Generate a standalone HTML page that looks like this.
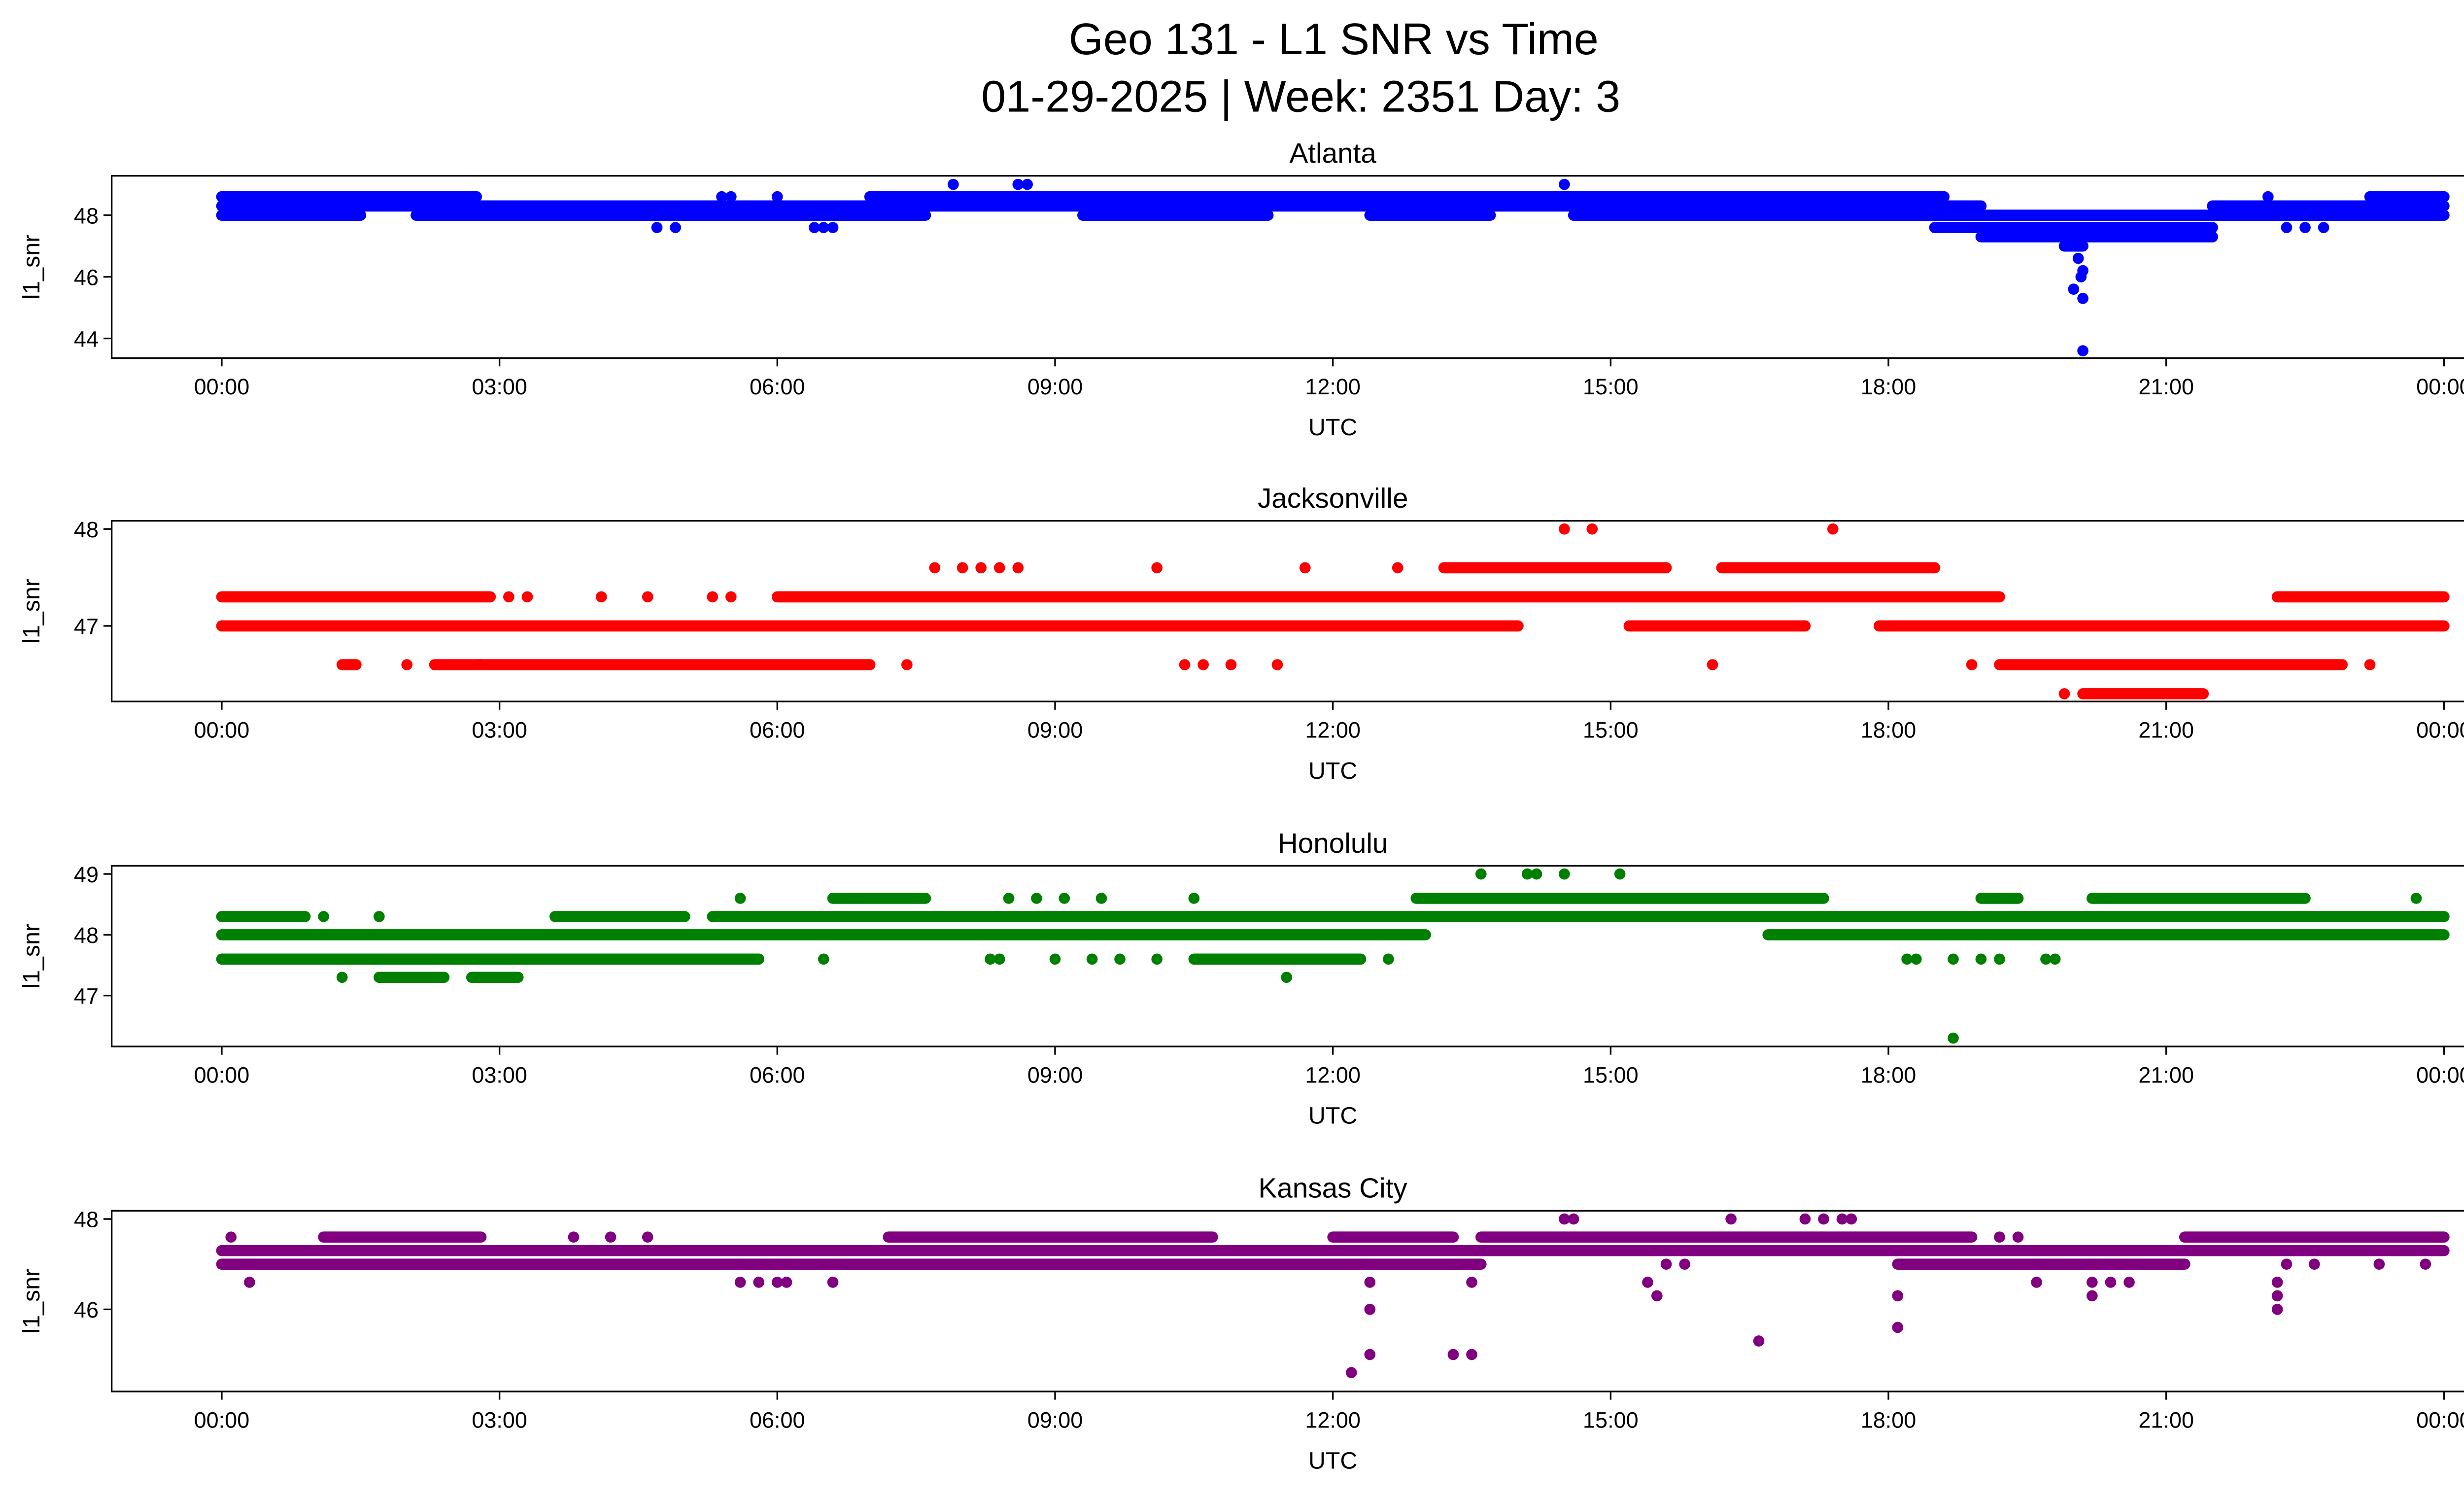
<!DOCTYPE html>
<html><head><meta charset="utf-8"><style>
html,body{margin:0;padding:0;background:#fff}
svg{display:block}
text{font-family:"Liberation Sans","DejaVu Sans",sans-serif;fill:#000}
</style></head><body>
<svg id="fig" width="5226" height="3033" viewBox="0 0 1568 910" xmlns="http://www.w3.org/2000/svg">
<text x="812" y="33" font-size="27" text-anchor="middle">Geo 131 - L1 SNR vs Time</text>
<text x="792" y="68" font-size="27" text-anchor="middle">01-29-2025 | Week: 2351 Day: 3</text>
</svg>
<script>
// Data arrays: runs are [startHour, endHour, value]; points are [hour, value]
const panelTitles = ["Atlanta","Jacksonville","Honolulu","Kansas City"];
const seriesColors = ["#0000ff","#ff0000","#008000","#800080"];
const xTickLabels = ["00:00","03:00","06:00","09:00","12:00","15:00","18:00","21:00","00:00"];
const xTickHours = [0,3,6,9,12,15,18,21,24];
const yTicks1 = [44,46,48];
const yTicks2 = [47,48];
const yTicks3 = [47,48,49];
const yTicks4 = [46,48];
const runsAtlanta = [[0,2.75,48.6],[7.0,18.6,48.6],[23.2,24,48.6],[0,19.0,48.3],[21.5,24,48.3],[0,1.5,48.0],[2.1,7.6,48.0],[9.3,11.3,48.0],[12.4,13.7,48.0],[14.6,24,48.0],[18.5,21.5,47.6],[19.0,21.5,47.3],[19.9,20.1,47.0]];
const ptsAtlanta = [[20.05,46.6],[20.1,46.2],[20.0,45.6],[20.1,45.3],[20.08,46.0],[20.1,43.6],[7.9,49],[8.6,49],[8.7,49],[14.5,49],[4.7,47.6],[4.9,47.6],[6.4,47.6],[6.5,47.6],[6.6,47.6],[22.1,48.6],[5.4,48.6],[5.5,48.6],[6.0,48.6],[22.3,47.6],[22.5,47.6],[22.7,47.6]];
const runsJax = [[0,2.9,47.3],[6.0,19.2,47.3],[22.2,24,47.3],[0,14.0,47.0],[15.2,17.1,47.0],[17.9,24,47.0],[1.3,1.45,46.6],[2.3,2.8,46.6],[2.75,7.0,46.6],[19.2,22.9,46.6],[13.2,15.6,47.6],[16.2,18.5,47.6],[20.1,21.4,46.3]];
const ptsJax = [[14.5,48],[14.8,48],[17.4,48],[7.7,47.6],[8.0,47.6],[8.2,47.6],[8.4,47.6],[8.6,47.6],[10.1,47.6],[11.7,47.6],[12.7,47.6],[2.0,46.6],[7.4,46.6],[10.4,46.6],[10.6,46.6],[10.9,46.6],[11.4,46.6],[16.1,46.6],[18.9,46.6],[23.2,46.6],[19.9,46.3],[3.1,47.3],[3.3,47.3],[4.1,47.3],[4.6,47.3],[5.3,47.3],[5.5,47.3]];
const runsHon = [[0,0.9,48.3],[3.6,5.0,48.3],[5.3,24,48.3],[0,13.0,48.0],[16.7,24,48.0],[0,5.8,47.6],[10.5,12.3,47.6],[6.6,7.6,48.6],[12.9,17.3,48.6],[19.0,19.4,48.6],[20.2,22.5,48.6],[1.7,2.4,47.3],[2.7,3.2,47.3]];
const ptsHon = [[13.6,49],[14.1,49],[14.2,49],[14.5,49],[15.1,49],[1.3,47.3],[11.5,47.3],[18.7,46.3],[18.2,47.6],[18.3,47.6],[18.7,47.6],[19.0,47.6],[19.2,47.6],[19.7,47.6],[19.8,47.6],[8.3,47.6],[8.4,47.6],[9.0,47.6],[9.4,47.6],[9.7,47.6],[10.1,47.6],[12.6,47.6],[6.5,47.6],[5.6,48.6],[8.5,48.6],[8.8,48.6],[9.1,48.6],[9.5,48.6],[10.5,48.6],[23.7,48.6],[1.1,48.3],[1.7,48.3]];
const runsKC = [[0,24,47.3],[0,13.6,47.0],[18.1,21.2,47.0],[1.1,2.8,47.6],[7.2,10.7,47.6],[12.0,13.3,47.6],[13.6,18.9,47.6],[21.2,24,47.6]];
const ptsKC = [[0.3,46.6],[5.6,46.6],[5.8,46.6],[6.0,46.6],[6.1,46.6],[6.6,46.6],[12.4,46.6],[13.5,46.6],[15.4,46.6],[19.6,46.6],[20.2,46.6],[20.4,46.6],[20.6,46.6],[22.2,46.6],[15.5,46.3],[18.1,46.3],[20.2,46.3],[22.2,46.3],[12.4,46],[22.2,46],[18.1,45.6],[16.6,45.3],[12.4,45],[13.3,45],[13.5,45],[12.2,44.6],[14.5,48],[14.6,48],[16.3,48],[17.1,48],[17.3,48],[17.5,48],[17.6,48],[0.1,47.6],[3.8,47.6],[4.2,47.6],[4.6,47.6],[19.2,47.6],[19.4,47.6],[22.3,47.0],[22.6,47.0],[23.3,47.0],[23.8,47.0],[15.6,47.0],[15.8,47.0]];

const NS="http://www.w3.org/2000/svg";
const svg=document.getElementById('fig');
const X0=68,X1=1555;
function xScale(h){return 135+h*(1488-135)/24;}
const panels=[
 {top:107,bot:218,v0:48,y0:131,ppu:18.75,ticks:yTicks1,runs:runsAtlanta,pts:ptsAtlanta},
 {top:317,bot:427,v0:48,y0:322,ppu:59,ticks:yTicks2,runs:runsJax,pts:ptsJax},
 {top:527,bot:637,v0:48,y0:569,ppu:37,ticks:yTicks3,runs:runsHon,pts:ptsHon},
 {top:737,bot:847,v0:48,y0:742,ppu:27.5,ticks:yTicks4,runs:runsKC,pts:ptsKC}
];
function mk(tag,attrs){const e=document.createElementNS(NS,tag);for(const k in attrs)e.setAttribute(k,attrs[k]);svg.appendChild(e);return e;}
panels.forEach((p,i)=>{
 const yScale=v=>p.y0-(v-p.v0)*p.ppu;
 const col=seriesColors[i];
 const g=document.createElementNS(NS,'g');svg.appendChild(g);
 
 
 p.runs.forEach(r=>{
  const l=document.createElementNS(NS,'line');
  
  
  l.setAttribute('x1',xScale(r[0]));l.setAttribute('x2',xScale(r[1]));
  l.setAttribute('y1',yScale(r[2]));l.setAttribute('y2',yScale(r[2]));
  l.setAttribute('stroke',col);l.setAttribute('stroke-width',6.8);l.setAttribute('stroke-linecap','round');
  g.appendChild(l);
 });
 p.pts.forEach(pt=>{
  const c=document.createElementNS(NS,'circle');
  
  
  c.setAttribute('cx',xScale(pt[0]));c.setAttribute('cy',yScale(pt[1]));c.setAttribute('r',3.4);c.setAttribute('fill',col);
  g.appendChild(c);
 });
 const fr=mk('rect',{x:X0,y:p.top,width:X1-X0,height:p.bot-p.top,fill:'none',stroke:'#000','stroke-width':1});
 
 
 const t=mk('text',{x:(X0+X1)/2,y:p.top-8,'font-size':17,'text-anchor':'middle'});t.textContent=panelTitles[i];
 
 
 xTickHours.forEach((h,k)=>{
  const x=xScale(h);
  const tk=mk('line',{x1:x,x2:x,y1:p.bot,y2:p.bot+5,stroke:'#000','stroke-width':1});
  
  
  const tl=mk('text',{x:x,y:p.bot+22,'font-size':13.5,'text-anchor':'middle'});tl.textContent=xTickLabels[k];
  
  
 });
 const xl=mk('text',{x:(X0+X1)/2,y:p.bot+47,'font-size':14.5,'text-anchor':'middle'});xl.textContent='UTC';
 
 
 p.ticks.forEach(v=>{
  const y=yScale(v);
  const tk=mk('line',{x1:X0-5,x2:X0,y1:y,y2:y,stroke:'#000','stroke-width':1});
  
  
  const tl=mk('text',{x:X0-8,y:y+5,'font-size':13.5,'text-anchor':'end'});tl.textContent=v;
  
  
 });
 const yc=(p.top+p.bot)/2;
 const yl=mk('text',{x:24,y:yc,'font-size':14.5,'text-anchor':'middle',transform:'rotate(-90 24 '+yc+')'});yl.textContent='l1_snr';
 
 
});
</script>
</body></html>
